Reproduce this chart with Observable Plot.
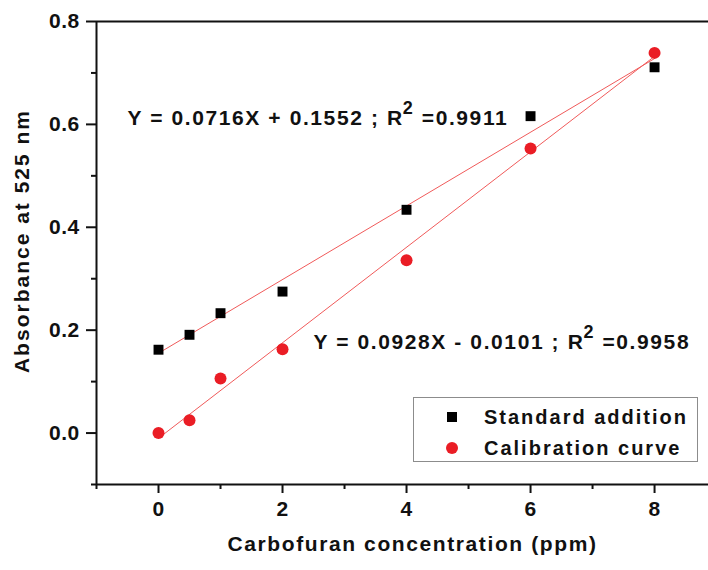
<!DOCTYPE html>
<html>
<head>
<meta charset="utf-8">
<script src="https://cdn.jsdelivr.net/npm/d3@7"></script>
<script src="https://cdn.jsdelivr.net/npm/@observablehq/plot@0.6"></script>
<style>
  body { margin: 0; background: #fff; overflow: hidden; }
  #chart { position: relative; width: 708px; height: 570px; font-family: "Liberation Sans", Arial, sans-serif; font-weight: bold; color: #111; }
  #chart svg text { letter-spacing: 0.4px; }
  #chart svg .eq text, #chart svg .xtitle text { letter-spacing: 1.6px; }
  #chart svg .ytitle text { letter-spacing: 2px; }
  .legend { position: absolute; left: 413px; top: 397px; width: 285px; height: 65px; box-sizing: border-box;
            border: 1px solid #8c8c8c; background: #fff; }
  .legend .sw { position: absolute; }
  .legend .lbl { position: absolute; left: 70px; white-space: nowrap; line-height: 24px; font-size: 20px; letter-spacing: 2px; }
</style>
</head>
<body>
<div id="chart"></div>
<script>
// Carbofuran concentration (ppm) for both series
const concStd = [0, 0.5, 1, 2, 4, 6, 8];
const absStd  = [0.162, 0.191, 0.233, 0.275, 0.434, 0.616, 0.711];
const concCal = [0, 0.5, 1, 2, 4, 6, 8];
const absCal  = [0.000, 0.025, 0.106, 0.163, 0.336, 0.553, 0.739];

const seriesNames = ["Standard addition", "Calibration curve"];
const seriesColors = ["#000000", "#ea1d25"];

// Linear fits reported for each series
const slopes = [0.0716, 0.0928];
const intercepts = [0.1552, -0.0101];
const rSquared = [0.9911, 0.9958];

// Axis ticks
const xMajor = [0, 2, 4, 6, 8];
const xMinor = [-1, 1, 3, 5, 7];
const yMajor = [0, 0.2, 0.4, 0.6, 0.8];
const yMinor = [-0.1, 0.1, 0.3, 0.5, 0.7];

const xDomain = [-1, 8.87];
const yDomain = [-0.1, 0.8];

const points = [
  ...concStd.map((c, i) => ({conc: c, abs: absStd[i], series: seriesNames[0]})),
  ...concCal.map((c, i) => ({conc: c, abs: absCal[i], series: seriesNames[1]}))
];

// Fitted straight lines over each series' concentration range
const fitLines = [];
seriesNames.forEach((s, k) => {
  const xs = k === 0 ? concStd : concCal;
  d3.extent(xs).forEach(x => fitLines.push({conc: x, abs: slopes[k] * x + intercepts[k], series: s}));
});

const eqText = k =>
  `Y = ${slopes[k].toFixed(4)}X ${intercepts[k] < 0 ? "-" : "+"} ${Math.abs(intercepts[k]).toFixed(4)} ; R^2 =${rSquared[k].toFixed(4)}`;

const chart = Plot.plot({
  width: 708,
  height: 570,
  marginLeft: 96,
  marginRight: 0,
  marginTop: 21,
  marginBottom: 86,
  style: {fontFamily: "'Liberation Sans', Arial, sans-serif", fontWeight: "bold", color: "#111", background: "#fff"},
  x: {domain: xDomain, label: null},
  y: {domain: yDomain, label: null},
  color: {domain: seriesNames, range: seriesColors},
  marks: [
    // frame lines: left, bottom, top
    Plot.ruleX([xDomain[0]], {stroke: "#111", strokeWidth: 2}),
    Plot.ruleY([yDomain[0]], {stroke: "#111", strokeWidth: 2}),
    Plot.ruleY([yDomain[1]], {stroke: "#111", strokeWidth: 2}),
    Plot.axisY(yMajor, {tickSize: 10, tickPadding: 7, tickFormat: d3.format(".1f"), fontSize: 21, strokeWidth: 2, stroke: "#111", fill: "#111", label: null}),
    Plot.axisY(yMinor, {tickSize: 5, tickFormat: () => "", strokeWidth: 2, stroke: "#111", label: null}),
    Plot.axisX(xMajor, {tickSize: 9, tickPadding: 8, tickFormat: d3.format("d"), fontSize: 21, strokeWidth: 2, stroke: "#111", fill: "#111", label: null}),
    Plot.axisX(xMinor, {tickSize: 5, tickFormat: () => "", strokeWidth: 2, stroke: "#111", label: null}),
    // fitted lines
    Plot.line(fitLines, {x: "conc", y: "abs", z: "series", stroke: "#f05a5a", strokeWidth: 1}),
    // measurements
    Plot.dot(points.filter(d => d.series === seriesNames[0]), {x: "conc", y: "abs", symbol: "square", r: 5.6, fill: seriesColors[0]}),
    Plot.dot(points.filter(d => d.series === seriesNames[1]), {x: "conc", y: "abs", symbol: "circle", r: 6, fill: seriesColors[1]}),
    // regression equations
    Plot.text([eqText(0)], {className: "eq", frameAnchor: "top-left", dx: 31, dy: 97, textAnchor: "start", lineAnchor: "middle", fontSize: 21, fill: "#111"}),
    Plot.text([eqText(1)], {className: "eq", frameAnchor: "top-left", dx: 217, dy: 321, textAnchor: "start", lineAnchor: "middle", fontSize: 21, fill: "#111"}),
    // axis titles
    Plot.text(["Carbofuran concentration (ppm)"], {className: "xtitle", frameAnchor: "bottom", dx: 10, dy: 66, fontSize: 21, fill: "#111"}),
    Plot.text(["Absorbance at 525 nm"], {className: "ytitle", frameAnchor: "left", textAnchor: "middle", dx: -74, dy: -12, rotate: -90, fontSize: 21, fill: "#111"})
  ]
});

// Render "R^2" as R with a raised 2
d3.select(chart).selectAll("text").each(function () {
  const t = this.textContent;
  if (!t.includes("^2")) return;
  const [a, b] = t.split("^2");
  const sel = d3.select(this);
  sel.text(null);
  sel.append("tspan").text(a);
  sel.append("tspan").attr("dy", -11).attr("dx", -1).attr("font-size", 18).text("2");
  sel.append("tspan").attr("dy", 11).text(b);
});

const root = document.getElementById("chart");
root.appendChild(chart);

// Legend box
const legend = document.createElement("div");
legend.className = "legend";
seriesNames.forEach((name, k) => {
  const cy = k === 0 ? 19 : 50;
  const size = k === 0 ? 10 : 12;
  const sw = document.createElement("div");
  sw.className = "sw";
  sw.style.cssText = `left:${38 - size / 2}px;top:${cy - size / 2}px;width:${size}px;height:${size}px;background:${seriesColors[k]};border-radius:${k === 0 ? 0 : 50}%`;
  const lbl = document.createElement("div");
  lbl.className = "lbl";
  lbl.style.top = `${cy - 12}px`;
  lbl.textContent = name;
  legend.appendChild(sw);
  legend.appendChild(lbl);
});
root.appendChild(legend);
</script>
</body>
</html>
